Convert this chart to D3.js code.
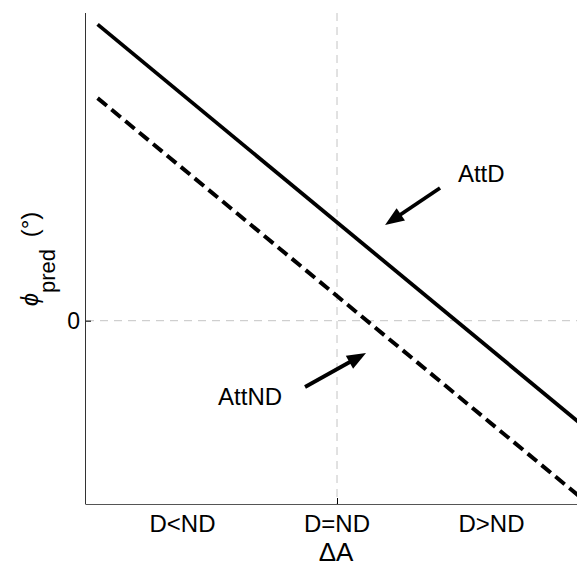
<!DOCTYPE html>
<html>
<head>
<meta charset="utf-8">
<script src="https://cdn.jsdelivr.net/npm/d3@7"></script>
<style>
  html, body { margin: 0; padding: 0; background: #fff; }
  svg { display: block; font-family: "Liberation Sans", Arial, Helvetica, sans-serif; }
</style>
</head>
<body>
<svg id="chart" width="577" height="566"></svg>
<script>
// ---- data ----
const categories = ["D<ND", "D=ND", "D>ND"];
const categoryPositions = [-1, 0, 1];
const xValues = [-1.55, 1.6];
const attDValues = [29.63, -10.59];
const attNDValues = [22.26, -17.96];
const yTickValues = [0];
const yTickLabels = ["0"];
const annotations = [
  { label: "AttD",  textX: 0.783,  textY: 13.87, tailX: 0.667,  tailY: 13.27, tipX: 0.311, tipY: 9.57 },
  { label: "AttND", textX: -0.770, textY: -8.43, tailX: -0.207, tailY: -6.63, tipX: 0.188, tipY: -3.23 }
];

// ---- scales ----
const svg = d3.select("#chart");
const x = d3.scaleLinear().domain([-1.625, 1.625]).range([86, 588]);
const y = d3.scaleLinear().domain([-18.33, 30.77]).range([504, 13]);

// grid lines (dashed, light gray)
svg.append("line")
  .attr("x1", x(0)).attr("x2", x(0))
  .attr("y1", y.range()[1]).attr("y2", y.range()[0])
  .attr("stroke", "#c4c4c4").attr("stroke-width", 1).attr("stroke-dasharray", "8,6");
svg.append("line")
  .attr("x1", x.range()[0]).attr("x2", x.range()[1])
  .attr("y1", y(0)).attr("y2", y(0))
  .attr("stroke", "#c4c4c4").attr("stroke-width", 1).attr("stroke-dasharray", "8,6");

// axes
const xAxis = d3.axisBottom(x).tickValues([0]).tickSize(-6).tickFormat("");
const gx = svg.append("g").attr("transform", "translate(0,504)").call(xAxis);
gx.select(".domain").attr("d", `M${x.range()[0]},0.5H${x.range()[1]}`).attr("stroke", "#555");
gx.selectAll(".tick line").attr("stroke", "#000");

const yAxis = d3.axisLeft(y).tickValues(yTickValues).tickSize(-5).tickFormat("");
const gy = svg.append("g").attr("transform", "translate(86,0)").call(yAxis);
gy.select(".domain").attr("d", `M-0.5,${y.range()[1]}V${y.range()[0] + 0.5}`).attr("stroke", "#333");
gy.selectAll(".tick line").attr("stroke", "#000");

// y tick labels
svg.selectAll(".ylab").data(yTickValues).enter().append("text")
  .attr("x", 80).attr("y", d => y(d) + 8)
  .attr("text-anchor", "end").attr("font-size", 23).attr("fill", "#000")
  .text((d, i) => yTickLabels[i]);

// category labels
svg.selectAll(".xlab").data(categories).enter().append("text")
  .attr("x", (d, i) => x(categoryPositions[i]))
  .attr("y", 532)
  .attr("text-anchor", "middle").attr("font-size", 24).attr("fill", "#000")
  .text(d => d);

// x axis title
svg.append("text")
  .attr("x", x(0) - 1).attr("y", 561)
  .attr("text-anchor", "middle").attr("font-size", 26).attr("fill", "#000")
  .text("ΔA");

// y axis title
const yt = svg.append("text")
  .attr("transform", "translate(38,259) rotate(-90)")
  .attr("text-anchor", "middle").attr("font-size", 24).attr("fill", "#000");
yt.append("tspan").attr("font-style", "italic").text("ϕ");
yt.append("tspan").attr("dy", 17).attr("font-size", 22).text("pred");
yt.append("tspan").attr("dy", -17).attr("dx", 5).text(" (°)");

// lines
const line = d3.line().x(d => x(d[0])).y(d => y(d[1]));
svg.append("path")
  .datum(xValues.map((v, i) => [v, attDValues[i]]))
  .attr("d", line).attr("fill", "none").attr("stroke", "#000").attr("stroke-width", 3.8);
svg.append("path")
  .datum(xValues.map((v, i) => [v, attNDValues[i]]))
  .attr("d", line).attr("fill", "none").attr("stroke", "#000").attr("stroke-width", 4)
  .attr("stroke-dasharray", "12,6");

// annotations
annotations.forEach(a => {
  const x1 = x(a.tailX), y1 = y(a.tailY), x2 = x(a.tipX), y2 = y(a.tipY);
  const ang = Math.atan2(y2 - y1, x2 - x1);
  const hl = 19, hw = 7.5;
  const bx = x2 - hl * Math.cos(ang), by = y2 - hl * Math.sin(ang);
  svg.append("line")
    .attr("x1", x1).attr("y1", y1).attr("x2", bx + 2 * Math.cos(ang)).attr("y2", by + 2 * Math.sin(ang))
    .attr("stroke", "#000").attr("stroke-width", 3.8);
  const px = -Math.sin(ang), py = Math.cos(ang);
  svg.append("path")
    .attr("d", `M${x2},${y2}L${bx + hw * px},${by + hw * py}L${bx - hw * px},${by - hw * py}Z`)
    .attr("fill", "#000");
  svg.append("text")
    .attr("x", x(a.textX)).attr("y", y(a.textY))
    .attr("font-size", 24).attr("fill", "#000")
    .text(a.label);
});
</script>
</body>
</html>
